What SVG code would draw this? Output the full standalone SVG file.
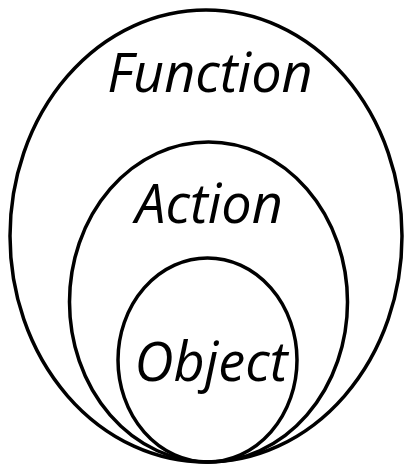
<svg xmlns="http://www.w3.org/2000/svg" width="407" height="466" viewBox="0 0 407 466">
<style>
.ring{fill:none;stroke:#000;stroke-width:3.5}
.lbl{font-family:"Open Sans","Noto Sans","DejaVu Sans",sans-serif;font-style:italic;font-size:54px;fill:#000;text-anchor:middle}
</style>
<rect width="407" height="466" fill="#fff"/>
<g id="function">
<ellipse class="ring" cx="206" cy="236" rx="196" ry="226"/>
<text class="lbl" x="210" y="92">Function</text>
</g>
<g id="action">
<ellipse class="ring" cx="208.5" cy="302" rx="139" ry="160"/>
<text class="lbl" x="209" y="223">Action</text>
</g>
<g id="object">
<ellipse class="ring" cx="207.5" cy="360" rx="89.5" ry="102"/>
<text class="lbl" x="211" y="381">Object</text>
</g>
<g id="connectors"></g>
</svg>
